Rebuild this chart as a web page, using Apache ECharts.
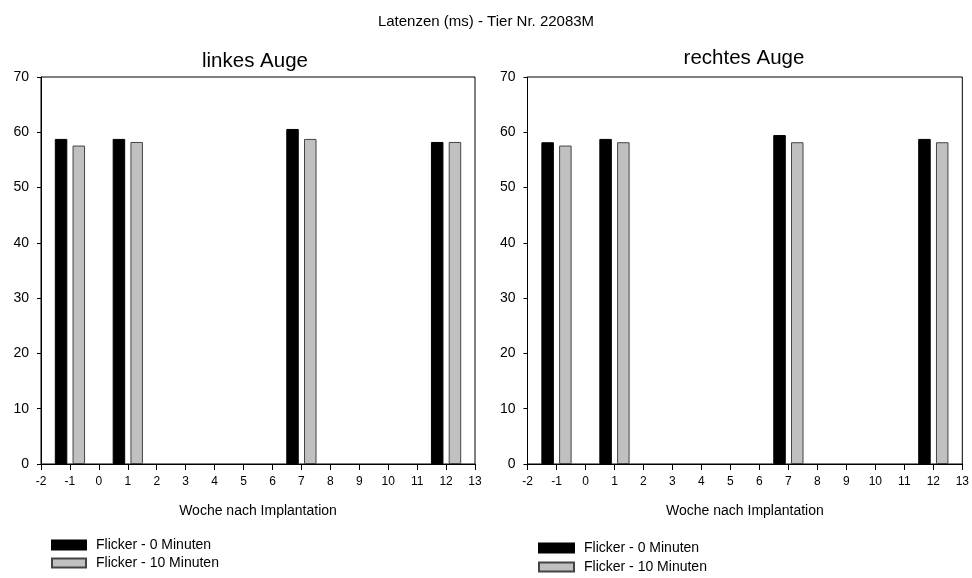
<!DOCTYPE html>
<html>
<head>
<meta charset="utf-8">
<script src="https://cdn.jsdelivr.net/npm/echarts@6/dist/echarts.min.js"></script>
<style>
  html, body { margin: 0; padding: 0; background: #fff; }
  #chart { width: 972px; height: 578px; }
</style>
</head>
<body>
<div id="chart"></div>
<script>
// Weeks after implantation at which latencies were measured
const weeks = [-1, 1, 7, 12];
// Left eye latencies (ms)
const leftFlicker0 = [58.8, 58.8, 60.6, 58.25];
const leftFlicker10 = [57.6, 58.25, 58.8, 58.25];
// Right eye latencies (ms)
const rightFlicker0 = [58.2, 58.8, 59.5, 58.8];
const rightFlicker10 = [57.6, 58.2, 58.2, 58.2];
// Axis ranges and ticks
const xMin = -2, xMax = 13, xStep = 1;
const yMin = 0, yMax = 70, yStep = 10;
const seriesNames = ['Flicker - 0 Minuten', 'Flicker - 10 Minuten'];
const panelTitles = ['linkes Auge', 'rechtes Auge'];
const mainTitle = 'Latenzen (ms) - Tier Nr. 22083M';
const xName = 'Woche nach Implantation';

const FONT = 'Liberation Sans, Arial, sans-serif';
const grids = [
  { left: 41, top: 77, width: 434, height: 387 },
  { left: 527.5, top: 77, width: 435, height: 387 }
];

function pairs(vals) { return weeks.map((w, i) => [w, vals[i]]); }

const xAxes = grids.map((g, i) => ({
  type: 'value', gridIndex: i, min: xMin, max: xMax, interval: xStep,
  name: xName, nameLocation: 'middle', nameGap: 40,
  nameTextStyle: { fontFamily: FONT, fontSize: 14, color: '#000' },
  axisLine: { show: true, onZero: false, lineStyle: { color: '#000', width: 1 } },
  axisTick: { show: true, length: 6, lineStyle: { color: '#000' } },
  axisLabel: { fontFamily: FONT, fontSize: 12, color: '#000', margin: 12 },
  splitLine: { show: false }
}));
const yAxes = grids.map((g, i) => ({
  type: 'value', gridIndex: i, min: yMin, max: yMax, interval: yStep,
  axisLine: { show: true, onZero: false, lineStyle: { color: '#000', width: 1 } },
  axisTick: { show: true, length: 4, lineStyle: { color: '#000' } },
  axisLabel: { fontFamily: FONT, fontSize: 14, color: '#000', margin: 12 },
  splitLine: { show: false }
}));

const barBlack = { color: '#000', borderColor: '#000', borderWidth: 1 };
const barGray = { color: '#c0c0c0', borderColor: '#444', borderWidth: 1 };

function barSeries(name, vals, idx, style) {
  return {
    name, type: 'bar', xAxisIndex: idx, yAxisIndex: idx,
    data: pairs(vals), barWidth: 12.5, barGap: '42%',
    itemStyle: style, emphasis: { disabled: true }, animation: false
  };
}

const legendText = { fontFamily: FONT, fontSize: 14, color: '#000', padding: [0, 0, 0, 5] };

const option = {
  backgroundColor: '#fff',
  animation: false,
  title: [
    { text: mainTitle, left: 'center', top: 9, textStyle: { fontFamily: FONT, fontSize: 15, fontWeight: 'normal', color: '#000' } },
    { text: panelTitles[0], left: 250, top: 46, textAlign: 'center', textStyle: { fontFamily: FONT, fontSize: 20.5, fontWeight: 'normal', color: '#000' } },
    { text: panelTitles[1], left: 739, top: 43, textAlign: 'center', textStyle: { fontFamily: FONT, fontSize: 20.5, fontWeight: 'normal', color: '#000' } }
  ],
  grid: grids.map(g => Object.assign({ show: true, borderColor: '#000', borderWidth: 1, backgroundColor: 'transparent' }, g)),
  xAxis: xAxes,
  yAxis: yAxes,
  legend: [
    { left: 51, top: 538, padding: 0, orient: 'vertical', icon: 'rect', itemWidth: 34, itemHeight: 9, itemGap: 4,
      data: seriesNames, selectedMode: false, textStyle: legendText },
    { left: 538, top: 541, padding: 0, orient: 'vertical', icon: 'rect', itemWidth: 35, itemHeight: 9, itemGap: 5,
      data: seriesNames, selectedMode: false, textStyle: legendText }
  ],
  series: [
    barSeries(seriesNames[0], leftFlicker0, 0, barBlack),
    barSeries(seriesNames[1], leftFlicker10, 0, barGray),
    barSeries(seriesNames[0], rightFlicker0, 1, barBlack),
    barSeries(seriesNames[1], rightFlicker10, 1, barGray)
  ]
};

const chart = echarts.init(document.getElementById('chart'), null, { renderer: 'canvas' });
chart.setOption(option);
</script>
</body>
</html>
